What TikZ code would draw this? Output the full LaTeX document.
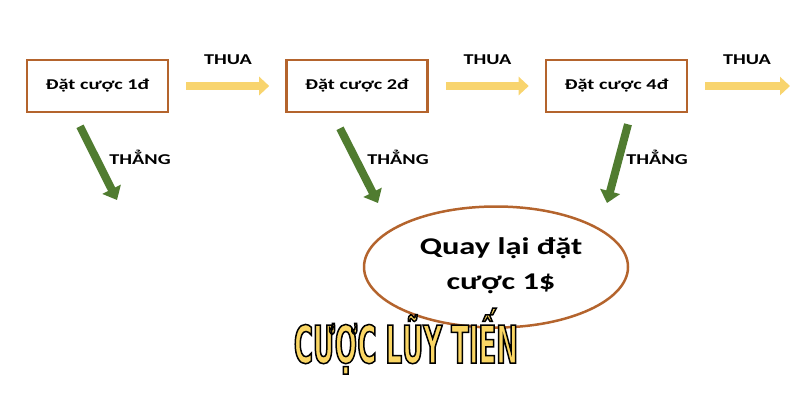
\documentclass[tikz,border=0pt]{standalone}
\usepackage{fontspec}
\setmainfont{Carlito}[FakeStretch=1.35]
\newfontfamily\titlefont{DejaVu Sans}[FakeStretch=0.5]
\usetikzlibrary{arrows.meta,shapes.geometric}
\definecolor{boxbrown}{RGB}{180,100,45}
\definecolor{loseyellow}{RGB}{248,212,110}
\definecolor{wingreen}{RGB}{80,124,48}
\definecolor{titleyellow}{RGB}{250,214,100}
\newcommand\outlined[1]{{\color{titleyellow}\special{pdf:literal direct 0 0 0 RG 2 Tr 1.5 w}#1\special{pdf:literal direct 0 Tr}}}
\tikzset{
  bet/.style={draw=boxbrown, line width=2.6bp, minimum width=141bp, minimum height=52bp,
    font=\bfseries\fontsize{15bp}{18bp}\selectfont},
  lose/.style={draw=loseyellow, line width=8bp, -{Triangle[length=10bp,width=18bp]}},
  win/.style={draw=wingreen, line width=8bp, -{Triangle[length=12bp,width=20bp]}},
  tag/.style={font=\bfseries\fontsize{15bp}{18bp}\selectfont}
}

\begin{document}
\begin{tikzpicture}[x=1bp,y=-1bp]
  \useasboundingbox (0,0) rectangle (800,400);
  \def\gap{259.5}   % box spacing
  \foreach \i/\n in {1/1,2/2,3/4} {
    \node[bet] (b\i) at ({97.5+\gap*(\i-1)},86) {Đặt cược \n đ};
    \node[tag] (t\i) at ({228+\gap*(\i-1)},60) {THUA};
  }
  \coordinate (e4) at (790,86);
  \foreach \a/\b in {b1/b2,b2/b3} { \draw[lose] ([xshift=17bp]\a.east) -- ([xshift=-16bp]\b.west); }
  \draw[lose] ([xshift=17bp]b3.east) -- (e4);
  % thang
  \node[ellipse, draw=boxbrown, line width=2.5bp, minimum width=264bp, minimum height=121bp] (q) at (496,267) {};
  \node[align=center, font=\bfseries\fontsize{24bp}{35bp}\selectfont] (qt) at (501,266) {Quay lại đặt\\cược 1\$};
  \coordinate (w1) at (117,200);
  \coordinate (w2) at (378,203);
  \coordinate (w3) at (607,203);
  \draw[win] ([shift={(-17.5,13)}]b1.south) -- (w1);
  \draw[win] ([shift={(-17,15)}]b2.south) -- (w2);
  \draw[win] ([shift={(11.5,11)}]b3.south) -- (w3);
  \foreach \i/\x in {1/140,2/398,3/657} { \node[tag] (h\i) at (\x,157) {THẲNG}; }
  \node[anchor=base] (title) at (406,363) {\titlefont\bfseries\fontsize{52bp}{54bp}\selectfont\outlined{CƯỢC LŨY TIẾN}};
\end{tikzpicture}
\end{document}
